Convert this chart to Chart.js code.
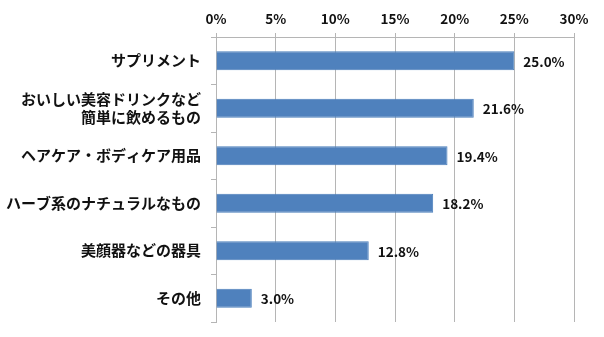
<!DOCTYPE html>
<html lang="ja">
<head>
<meta charset="utf-8">
<script src="https://cdn.jsdelivr.net/npm/chart.js@4/dist/chart.umd.min.js"></script>
<style>
  html, body { margin: 0; padding: 0; background: #fff; }
  #wrap { width: 604px; height: 337px; }
</style>
</head>
<body>
<div id="wrap"><canvas id="chart" width="604" height="337"></canvas></div>
<script>
const categories = [
  'サプリメント',
  ['おいしい美容ドリンクなど', '簡単に飲めるもの'],
  'ヘアケア・ボディケア用品',
  'ハーブ系のナチュラルなもの',
  '美顔器などの器具',
  'その他'
];
const shares = [25.0, 21.6, 19.4, 18.2, 12.8, 3.0];
const tickValues = [0, 5, 10, 15, 20, 25, 30];

const fontFamily = '"Noto Sans CJK JP", "Noto Sans", sans-serif';
const gridColor = '#B5B5B5';

// value text to the right of each bar
const valueLabels = {
  id: 'valueLabels',
  afterDatasetsDraw(chart) {
    const ctx = chart.ctx;
    const meta = chart.getDatasetMeta(0);
    ctx.save();
    ctx.font = 'bold 13.5px ' + fontFamily;
    ctx.fillStyle = '#111';
    ctx.textAlign = 'left';
    ctx.textBaseline = 'middle';
    meta.data.forEach((bar, i) => {
      const v = chart.data.datasets[0].data[i];
      ctx.fillText(v.toFixed(1) + '%', bar.x + 9, bar.y + 1);
    });
    ctx.restore();
  }
};

new Chart(document.getElementById('chart'), {
  type: 'bar',
  data: {
    labels: categories,
    datasets: [{
      data: shares,
      backgroundColor: '#4F81BD',
      borderColor: '#4A7EBB',
      borderWidth: 1,
      categoryPercentage: 1,
      barPercentage: 0.4
    }]
  },
  options: {
    indexAxis: 'y',
    responsive: false,
    animation: false,
    layout: { padding: { top: 0, right: 30, bottom: 15, left: 0 } },
    plugins: {
      legend: { display: false },
      tooltip: { enabled: false }
    },
    scales: {
      x: {
        position: 'top',
        min: 0,
        max: 30,
        afterBuildTicks(scale) {
          scale.ticks = tickValues.map(v => ({ value: v }));
        },
        afterFit(scale) { scale.height = 37; },
        ticks: {
          padding: 6,
          color: '#111',
          font: { family: fontFamily, size: 13.5, weight: 'bold' },
          callback: v => v + '%'
        },
        grid: { color: gridColor, tickLength: 4 },
        border: { color: gridColor }
      },
      y: {
        afterFit(scale) {
          scale.width = 216;
          // labels sit between ticks, no extra room needed at the ends
          scale.paddingTop = 0;
          scale.paddingBottom = 0;
        },
        ticks: {
          padding: 10,
          color: '#111',
          font: { family: fontFamily, size: 15, weight: 'bold', lineHeight: 1.2 }
        },
        grid: { color: gridColor, drawOnChartArea: false, tickLength: 5 },
        border: { color: gridColor }
      }
    }
  },
  plugins: [valueLabels]
});
</script>
</body>
</html>
